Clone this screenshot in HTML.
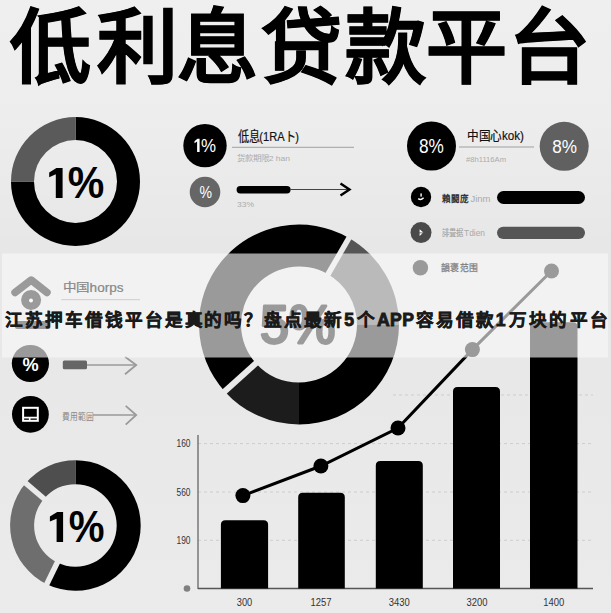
<!DOCTYPE html>
<html lang="zh-CN"><head><meta charset="utf-8"><style>html,body{margin:0;padding:0;width:611px;height:613px;overflow:hidden;background:#ececec}svg{display:block}text{font-family:"Liberation Sans",sans-serif}</style></head>
<body><svg width="611" height="613" viewBox="0 0 611 613" font-family="Liberation Sans, sans-serif">
<defs><linearGradient id="bgg" x1="0" y1="0" x2="0" y2="1"><stop offset="0" stop-color="#efefef"/><stop offset="0.2" stop-color="#ededed"/><stop offset="0.4" stop-color="#e7e7e7"/><stop offset="0.62" stop-color="#e8e8e8"/><stop offset="1" stop-color="#ebebeb"/></linearGradient></defs>
<rect width="611" height="613" fill="url(#bgg)"/>
<line x1="393" y1="395" x2="593" y2="395" stroke="#cdcdcd" stroke-width="1" stroke-dasharray="3 3"/>
<line x1="198" y1="443.6" x2="593" y2="443.6" stroke="#cdcdcd" stroke-width="1" stroke-dasharray="3 3"/>
<line x1="198" y1="492" x2="593" y2="492" stroke="#cdcdcd" stroke-width="1" stroke-dasharray="3 3"/>
<line x1="198" y1="540.3" x2="593" y2="540.3" stroke="#cdcdcd" stroke-width="1" stroke-dasharray="3 3"/>
<path d="M75.50 117.00A64.5 64.5 0 1 1 11.00 181.50L34.00 181.50A41.5 41.5 0 1 0 75.50 140.00Z" fill="#000"/>
<path d="M11.00 181.50A64.5 64.5 0 0 1 75.50 117.00L75.50 140.00A41.5 41.5 0 0 0 34.00 181.50Z" fill="#5a5a5a"/>
<path d="M56.4 167.9H62.6V197.9H55.8V174.2L49.2 177.2V172.4Z" fill="#000"/>
<text transform="matrix(0.4108 0 0 0.4514 67.67 198.35)" font-size="100" fill="#000" font-weight="bold">%</text>
<mask id="m1" maskUnits="userSpaceOnUse" x="0" y="0" width="611" height="613"><rect width="611" height="613" fill="#fff"/><line x1="327.00" y1="276.00" x2="350.00" y2="236.17" stroke="#000" stroke-width="5.5"/><line x1="257.38" y1="361.97" x2="223.20" y2="392.75" stroke="#000" stroke-width="6"/></mask><g mask="url(#m1)">
<path d="M349.00 237.90A100 100 0 0 1 399.00 324.50L357.00 324.50A58 58 0 0 0 328.00 274.27Z" fill="#555"/>
<path d="M399.00 324.50A100 100 0 0 1 299.00 424.50L299.00 382.50A58 58 0 0 0 357.00 324.50Z" fill="#000"/>
<path d="M299.00 424.50A100 100 0 0 1 224.69 391.41L255.90 363.31A58 58 0 0 0 299.00 382.50Z" fill="#1c1c1c"/>
<path d="M224.69 391.41A100 100 0 0 1 349.00 237.90L328.00 274.27A58 58 0 0 0 255.90 363.31Z" fill="#000"/>
</g>
<text transform="matrix(0.5219 0 0 0.5314 259.91 342.67)" font-size="100" fill="#000" stroke="#000" stroke-width="5.32" stroke-linejoin="round">5%</text>
<mask id="m3" maskUnits="userSpaceOnUse" x="0" y="0" width="611" height="613"><rect width="611" height="613" fill="#fff"/><line x1="58.17" y1="560.82" x2="45.90" y2="585.99" stroke="#000" stroke-width="5.5"/><line x1="45.52" y1="499.98" x2="24.22" y2="481.79" stroke="#000" stroke-width="5.5"/></mask><g mask="url(#m3)">
<path d="M75.40 460.20A65.3 65.3 0 1 1 46.77 584.19L57.30 562.62A41.3 41.3 0 1 0 75.40 484.20Z" fill="#000"/>
<path d="M46.77 584.19A65.3 65.3 0 0 1 25.75 483.09L44.00 498.68A41.3 41.3 0 0 0 57.30 562.62Z" fill="#6e6e6e"/>
<path d="M25.75 483.09A65.3 65.3 0 0 1 75.40 460.20L75.40 484.20A41.3 41.3 0 0 0 44.00 498.68Z" fill="#4e4e4e"/>
</g>
<path d="M57.2 512H63.1V541.9H56.6V518.8L49.9 521.5V516.6Z" fill="#000"/>
<text transform="matrix(0.4024 0 0 0.4457 68.69 542.15)" font-size="100" fill="#000" font-weight="bold">%</text>
<circle cx="205" cy="145.6" r="21.7" fill="#000"/>
<path d="M197.4 138.8H199.6V151.9H197.1V141.6L194.5 143.2V141.3Z" fill="#fff"/>
<text transform="matrix(0.1691 0 0 0.1929 201.02 151.81)" font-size="100" fill="#fff">%</text>
<text x="238" y="141.4" font-size="13.5" fill="#111" textLength="61" lengthAdjust="spacingAndGlyphs" stroke="#111" stroke-width="0.2">低息(1RAト)</text>
<line x1="232" y1="147.3" x2="354" y2="147.3" stroke="#a0a0a0" stroke-width="1"/>
<text x="237" y="160.5" font-size="7.5" fill="#ababab" textLength="53" lengthAdjust="spacingAndGlyphs" >货款期限2 han</text>
<circle cx="205" cy="192" r="15.3" fill="#666"/>
<text transform="matrix(0.1407 0 0 0.1629 199.54 198.14)" font-size="100" fill="#fff">%</text>
<rect x="236.6" y="186" width="54" height="7.5" rx="3.7" fill="#000"/>
<line x1="290" y1="189.5" x2="349" y2="189.5" stroke="#444" stroke-width="1.1"/>
<polyline points="340.5,183.5 349.5,189.5 340.5,195.5" fill="none" stroke="#000" stroke-width="2.4"/>
<text x="237" y="207" font-size="8" fill="#ababab" textLength="17" lengthAdjust="spacingAndGlyphs" >33%</text>
<circle cx="431.5" cy="146" r="24.5" fill="#000"/>
<text transform="matrix(0.1723 0 0 0.1930 418.91 153.01)" font-size="100" fill="#fff">8%</text>
<text x="467" y="140.4" font-size="13" fill="#111" textLength="57" lengthAdjust="spacingAndGlyphs" stroke="#111" stroke-width="0.2">中国心kok)</text>
<line x1="459" y1="147" x2="534" y2="147" stroke="#a0a0a0" stroke-width="1"/>
<text x="466" y="162" font-size="8" fill="#ababab" textLength="40" lengthAdjust="spacingAndGlyphs" >#8h1116Am</text>
<circle cx="564.2" cy="146.3" r="24.5" fill="#606060"/>
<text transform="matrix(0.1715 0 0 0.1873 552.21 152.61)" font-size="100" fill="#fff">8%</text>
<circle cx="421" cy="197" r="10.2" fill="#000"/>
<path d="M418.2 198.6 Q420.8 200.6 423.6 197.8" stroke="#fff" stroke-width="1.4" fill="none"/><rect x="420.4" y="193.4" width="1.4" height="3.2" fill="#fff"/>
<text x="441.6" y="201.6" font-size="9.5" fill="#333" font-weight="bold" textLength="27" lengthAdjust="spacingAndGlyphs" >賴闘庞</text>
<text x="470.4" y="201.6" font-size="9.5" fill="#aaa" textLength="20" lengthAdjust="spacingAndGlyphs" >Jinm</text>
<rect x="497" y="191" width="88" height="13" rx="6.5" fill="#000"/>
<circle cx="421" cy="232.6" r="10.5" fill="#4a4a4a"/>
<path d="M419.6 229.2L423.4 232.4L419.6 232.6Z M419.6 233.2L422.6 233.2L419.6 236Z" fill="#fff"/>
<text x="441.6" y="236.3" font-size="9" fill="#9a9a9a" textLength="22" lengthAdjust="spacingAndGlyphs" >誹畳据</text>
<text x="464" y="236.3" font-size="9" fill="#aaa" textLength="21" lengthAdjust="spacingAndGlyphs" >Tdien</text>
<rect x="497" y="226.7" width="88" height="12.3" rx="6.2" fill="#555"/>
<line x1="198" y1="435" x2="198" y2="589" stroke="#666" stroke-width="1.3"/>
<line x1="198" y1="588.5" x2="593" y2="588.5" stroke="#555" stroke-width="1.4"/>
<text x="176.5" y="447.3" font-size="10" fill="#333" textLength="14" lengthAdjust="spacingAndGlyphs" >160</text>
<text x="176.5" y="495.5" font-size="10" fill="#333" textLength="14" lengthAdjust="spacingAndGlyphs" >560</text>
<text x="176.5" y="544.0" font-size="10" fill="#333" textLength="14" lengthAdjust="spacingAndGlyphs" >190</text>
<circle cx="187" cy="588.5" r="3.3" fill="#808080"/>
<path d="M220.9 588.5V524.7Q220.9 520.2 225.4 520.2H263.6Q268.1 520.2 268.1 524.7V588.5Z" fill="#000"/>
<path d="M298.2 588.5V497.3Q298.2 492.8 302.7 492.8H340.3Q344.8 492.8 344.8 497.3V588.5Z" fill="#000"/>
<path d="M375.8 588.5V465.5Q375.8 461 380.3 461H418.3Q422.8 461 422.8 465.5V588.5Z" fill="#000"/>
<path d="M453 588.5V391.4Q453 386.9 457.5 386.9H495.5Q500 386.9 500 391.4V588.5Z" fill="#000"/>
<path d="M530 588.5V326.7Q530 322.2 534.5 322.2H573.0Q577.5 322.2 577.5 326.7V588.5Z" fill="#000"/>
<polyline points="242.9,495.6 320.9,466 398,428 472.4,349.6 551.5,271" fill="none" stroke="#000" stroke-width="3"/>
<circle cx="242.9" cy="495.6" r="7.5" fill="#000"/>
<circle cx="320.9" cy="466" r="7.5" fill="#000"/>
<circle cx="398" cy="428" r="7.5" fill="#000"/>
<circle cx="472.4" cy="349.6" r="7.5" fill="#000"/>
<circle cx="551.5" cy="271" r="7.5" fill="#000"/>
<text x="236.8" y="605.8" font-size="10.5" fill="#333" textLength="15.5" lengthAdjust="spacingAndGlyphs" >300</text>
<text x="310.5" y="605.8" font-size="10.5" fill="#333" textLength="21" lengthAdjust="spacingAndGlyphs" >1257</text>
<text x="388.8" y="605.8" font-size="10.5" fill="#333" textLength="21" lengthAdjust="spacingAndGlyphs" >3430</text>
<text x="466.5" y="605.8" font-size="10.5" fill="#333" textLength="21" lengthAdjust="spacingAndGlyphs" >3200</text>
<text x="543.2" y="605.8" font-size="10.5" fill="#333" textLength="21" lengthAdjust="spacingAndGlyphs" >1400</text>
<polyline points="15,292.5 31.2,280 47,292.5" fill="none" stroke="#000" stroke-width="7.5" stroke-linecap="round" stroke-linejoin="round"/>
<circle cx="31.1" cy="300" r="10" fill="#000"/><circle cx="31" cy="300.6" r="2" fill="#fff"/>
<rect x="15" y="321" width="35.5" height="8" rx="2" fill="#000"/>
<line x1="61.4" y1="299.7" x2="140" y2="299.7" stroke="#888" stroke-width="1"/>
<circle cx="30.4" cy="363.5" r="18.6" fill="#000"/>
<text transform="matrix(0.1819 0 0 0.1914 22.55 370.81)" font-size="100" fill="#fff" font-weight="bold">%</text>
<rect x="62.8" y="360.6" width="24.2" height="8.6" rx="1.5" fill="#666"/>
<line x1="87" y1="365" x2="136" y2="365" stroke="#9a9a9a" stroke-width="1.3"/>
<polyline points="125,356.7 136.2,365 125,374.2" fill="none" stroke="#9a9a9a" stroke-width="1.8"/>
<circle cx="30.4" cy="414.3" r="18.4" fill="#000"/>
<rect x="23.1" y="407.8" width="14.7" height="13" fill="none" stroke="#fff" stroke-width="2"/><path d="M24 417.6H37M29.7 417.6V421" stroke="#fff" stroke-width="1.6" fill="none"/>
<text x="62.3" y="420.2" font-size="9" fill="#888" textLength="31" lengthAdjust="spacingAndGlyphs" >費用範囲</text>
<line x1="93" y1="415" x2="136" y2="415" stroke="#9a9a9a" stroke-width="1.3"/>
<polyline points="125.7,405.9 136.2,415 125.7,424.7" fill="none" stroke="#9a9a9a" stroke-width="1.8"/>
<circle cx="420.4" cy="267.7" r="7.7" fill="#000"/>
<rect x="2" y="253.5" width="606" height="104" fill="#f9f9f9" fill-opacity="0.62"/>
<text x="62.5" y="291.8" font-size="12" fill="#888" textLength="61" lengthAdjust="spacingAndGlyphs" stroke="#888" stroke-width="0.2">中国horps</text>
<text x="441.2" y="271" font-size="9.5" fill="#7e7e7e" textLength="37" lengthAdjust="spacingAndGlyphs" stroke="#7e7e7e" stroke-width="0.25">韻褒范围</text>
<text x="5" y="325.5" font-size="17.6" letter-spacing="1.95" font-weight="bold" fill="#1a1a1a" stroke="#1a1a1a" stroke-width="0.45">江苏押车借钱平台是真的吗？盘点最新<tspan letter-spacing="1.2" stroke-width="0.9">5</tspan><tspan dx="1.8">个</tspan><tspan letter-spacing="0.4" stroke-width="0.9">APP</tspan><tspan dx="1.7">容</tspan>易借款<tspan letter-spacing="1" stroke-width="0.9">1</tspan><tspan dx="2">万</tspan>块的<tspan dx="1.5">平</tspan><tspan dx="0.5">台</tspan></text>
<text x="10.12" y="76" font-size="81" font-weight="bold" stroke="#000" stroke-width="0.8" transform="scale(1.0,1)">低</text>
<text x="97.02" y="76" font-size="81" font-weight="bold" stroke="#000" stroke-width="0.8" transform="scale(1.0,1)">利</text>
<text x="177.23" y="76" font-size="81" font-weight="bold" stroke="#000" stroke-width="0.8" transform="scale(1.0,1)">息</text>
<text x="260.80" y="76" font-size="81" font-weight="bold" stroke="#000" stroke-width="0.8" transform="scale(1.0,1)">贷</text>
<text x="344.82" y="76" font-size="81" font-weight="bold" stroke="#000" stroke-width="0.8" transform="scale(1.0,1)">款</text>
<text x="426.20" y="76" font-size="81" font-weight="bold" stroke="#000" stroke-width="0.8" transform="scale(1.0,1)">平</text>
<text x="508.72" y="76" font-size="81" font-weight="bold" stroke="#000" stroke-width="0.8" transform="scale(1.0,1)">台</text>
</svg></body></html>
